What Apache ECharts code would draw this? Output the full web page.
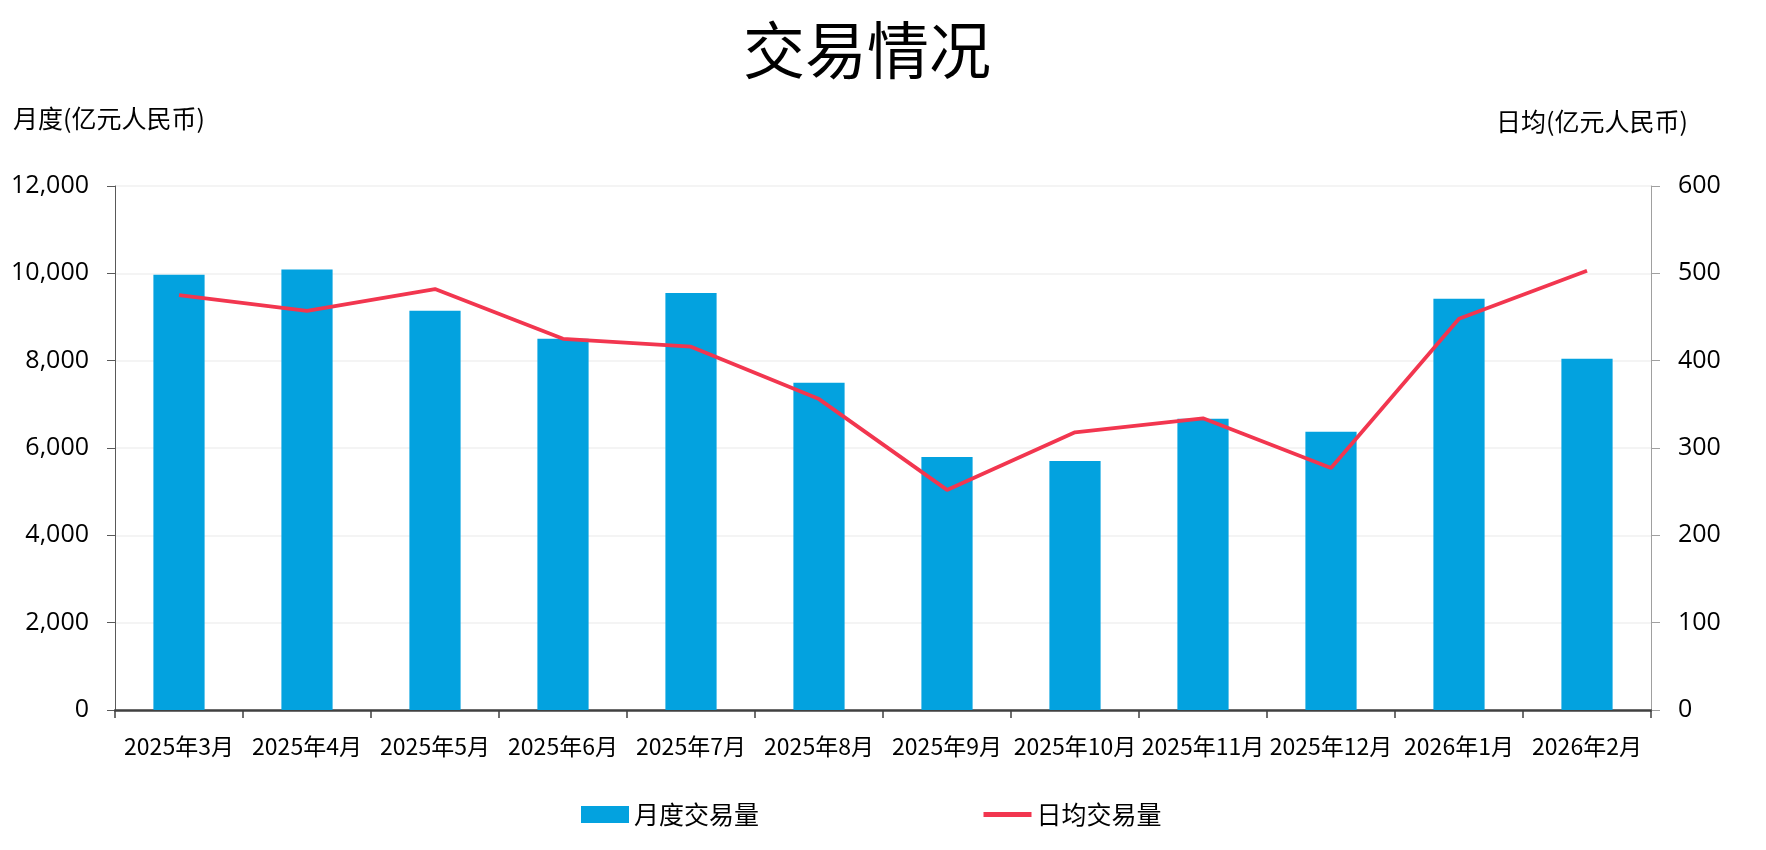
<!DOCTYPE html>
<html>
<head>
<meta charset="utf-8">
<script src="https://cdn.jsdelivr.net/npm/echarts@6/dist/echarts.min.js"></script>
<style>
html,body{margin:0;padding:0;background:#fff;}
#chart{width:1766px;height:850px;}
</style>
</head>
<body>
<div id="chart"></div>
<script>
const categories = ['2025年3月','2025年4月','2025年5月','2025年6月','2025年7月','2025年8月','2025年9月','2025年10月','2025年11月','2025年12月','2026年1月','2026年2月'];
const monthlyVolume = [9970, 10085, 9144, 8503, 9552, 7495, 5796, 5705, 6671, 6371, 9419, 8045];
const dailyAverage = [475, 457, 482, 425, 416, 356, 252, 318, 334, 277, 448, 503];
const leftTicks = {min: 0, max: 12000, interval: 2000};
const rightTicks = {min: 0, max: 600, interval: 100};

const FONT = '"Noto Sans CJK SC", "Noto Sans", sans-serif';
const NUMFONT = '"Open Sans", "Noto Sans CJK SC", sans-serif';
const chart = echarts.init(document.getElementById('chart'));
chart.setOption({
  backgroundColor: '#fff',
  animation: false,
  title: {
    text: '交易情况',
    left: 738,
    top: 14,
    textStyle: {fontFamily: FONT, fontSize: 62, fontWeight: 'normal', color: '#000'}
  },
  graphic: [
    {type: 'text', left: 13, top: 106, style: {text: '月度(亿元人民币)', font: '25px ' + FONT, fill: '#000'}},
    {type: 'text', left: 1496, top: 109, style: {text: '日均(亿元人民币)', font: '25px ' + FONT, fill: '#000'}}
  ],
  legend: {
    left: 576,
    top: 797,
    itemGap: 222,
    itemWidth: 48,
    itemHeight: 17,
    itemTextGap: 6,
    textStyle: {fontFamily: FONT, fontSize: 25, color: '#000'},
    data: [
      {name: '月度交易量', icon: 'rect'},
      {name: '日均交易量', itemStyle: {opacity: 0}, lineStyle: {width: 5, color: '#F2364F'}}
    ]
  },
  grid: {left: 115, right: 115, top: 186, bottom: 140},
  xAxis: {
    type: 'category',
    data: categories,
    axisLine: {lineStyle: {color: '#404040', width: 2.5}},
    axisTick: {show: true, length: 8, lineStyle: {color: '#404040', width: 1.5}},
    axisLabel: {interval: 0, margin: 25, fontFamily: FONT, fontSize: 23, color: '#000'}
  },
  yAxis: [
    {
      type: 'value',
      min: leftTicks.min, max: leftTicks.max, interval: leftTicks.interval,
      axisLine: {show: true, lineStyle: {color: '#595959', width: 1}},
      axisTick: {show: true, length: 8, lineStyle: {color: '#595959'}},
      axisLabel: {margin: 26, fontFamily: NUMFONT, fontSize: 25, color: '#000',
        formatter: v => v.toLocaleString('en-US')},
      splitLine: {show: true, lineStyle: {color: '#f0f0f0', width: 1.5}}
    },
    {
      type: 'value',
      min: rightTicks.min, max: rightTicks.max, interval: rightTicks.interval,
      axisLine: {show: true, lineStyle: {color: '#a0a0a0', width: 1}},
      axisTick: {show: true, length: 9, lineStyle: {color: '#a0a0a0'}},
      axisLabel: {margin: 27, fontFamily: NUMFONT, fontSize: 25, color: '#000'},
      splitLine: {show: false}
    }
  ],
  series: [
    {
      name: '月度交易量',
      type: 'bar',
      yAxisIndex: 0,
      barWidth: '40%',
      itemStyle: {color: '#03A2DF'},
      data: monthlyVolume
    },
    {
      name: '日均交易量',
      type: 'line',
      yAxisIndex: 1,
      symbol: 'none',
      lineStyle: {color: '#F2364F', width: 3.8},
      itemStyle: {color: '#F2364F'},
      data: dailyAverage
    }
  ]
});
</script>
</body>
</html>
